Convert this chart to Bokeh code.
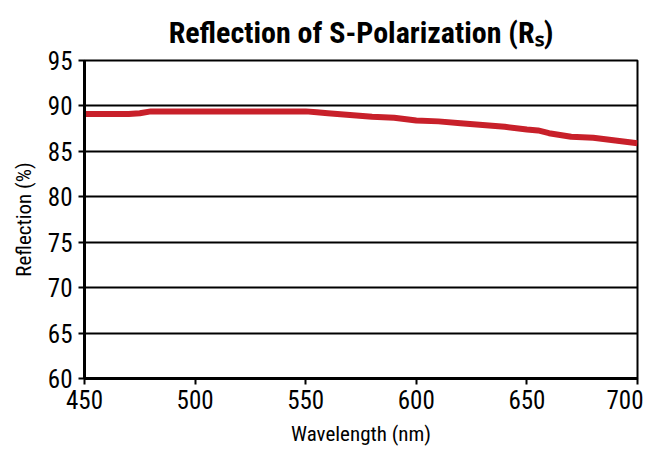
from bokeh.plotting import figure
from bokeh.models import Range1d, FixedTicker
from bokeh.embed import file_html
from bokeh.resources import INLINE

wavelength = [450, 460, 470, 475, 480, 490, 500, 510, 520, 530, 540, 550, 555, 560,
              570, 580, 590, 600, 610, 620, 630, 640, 650, 655, 660, 670, 680, 690, 700]
reflection = [89.1, 89.1, 89.1, 89.2, 89.4, 89.4, 89.4, 89.4, 89.4, 89.4, 89.4, 89.4, 89.3, 89.2,
              89.0, 88.8, 88.7, 88.4, 88.3, 88.1, 87.9, 87.7, 87.4, 87.3, 87.0, 86.6, 86.5, 86.2, 85.9]
x_ticks = [450, 500, 550, 600, 650, 700]
y_ticks = [60, 65, 70, 75, 80, 85, 90, 95]

FONT = "'Roboto Condensed', 'Liberation Sans Narrow', Roboto, sans-serif"

p = figure(width=643, height=448, output_backend="svg", toolbar_location=None,
           x_range=Range1d(450, 700), y_range=Range1d(60, 95),
           min_border_left=84, min_border_right=6, min_border_top=60, min_border_bottom=70)

p.title.text = "Reflection of S-Polarization (R\u209b)"
p.title.align = "center"
p.title.text_font = FONT
p.title.text_font_size = "30px"
p.title.text_font_style = "bold"
p.title.text_color = "black"
p.title.offset = 0
p.title.standoff = 21

p.line(wavelength, reflection, line_color="#c8202a", line_width=6)

p.xaxis.ticker = FixedTicker(ticks=x_ticks)
p.yaxis.ticker = FixedTicker(ticks=y_ticks)
for ax in (p.xaxis, p.yaxis):
    ax.axis_line_color = "black"
    ax.axis_line_width = 3
    ax.major_tick_line_color = "black"
    ax.major_tick_line_width = 2
    ax.major_tick_in = 0
    ax.major_tick_out = 6
    ax.minor_tick_line_color = None
    ax.major_label_text_font = FONT
    ax.major_label_text_font_size = "25px"
    ax.major_label_text_color = "black"
    ax.axis_label_text_font = FONT
    ax.axis_label_text_font_size = "21px"
    ax.axis_label_text_font_style = "normal"
    ax.axis_label_text_color = "black"
p.xaxis.axis_label = "Wavelength (nm)"
p.yaxis.axis_label = "Reflection (%)"
p.xaxis.major_label_standoff = 5
p.yaxis.major_label_standoff = 6
p.xaxis.axis_label_standoff = 10
p.yaxis.axis_label_standoff = 9

p.xgrid.grid_line_color = None
p.ygrid.grid_line_color = "black"
p.ygrid.grid_line_width = 2
p.outline_line_color = "black"
p.outline_line_width = 2
p.background_fill_color = "white"
p.border_fill_color = "white"

open("out.html", "w").write(file_html(p, INLINE))
